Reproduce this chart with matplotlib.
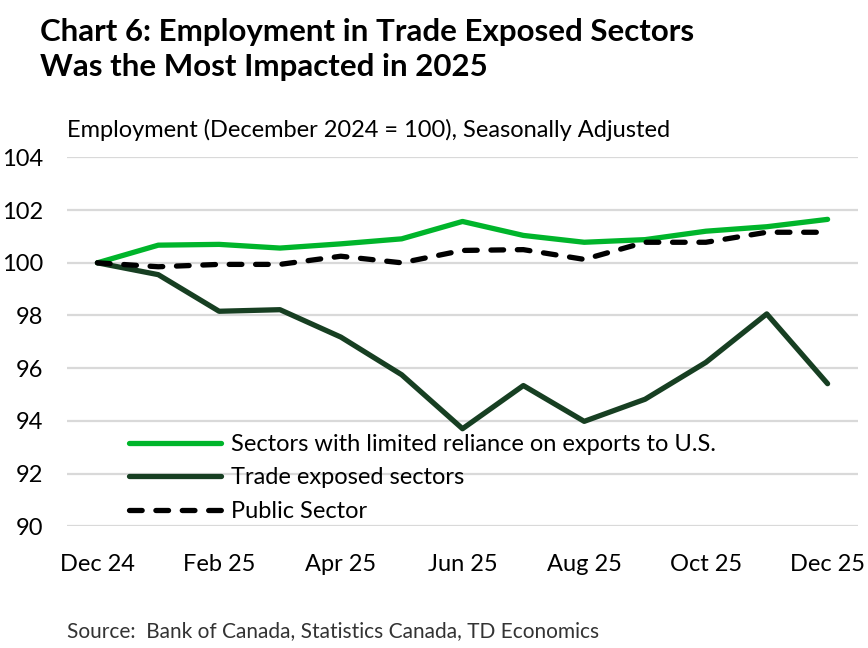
import matplotlib.pyplot as plt

# ---- data ----
months = ["Dec 24", "Jan 25", "Feb 25", "Mar 25", "Apr 25", "May 25", "Jun 25",
          "Jul 25", "Aug 25", "Sep 25", "Oct 25", "Nov 25", "Dec 25"]
limited_reliance = [100.0, 100.67, 100.7, 100.56, 100.72, 100.91, 101.57,
                    101.04, 100.78, 100.88, 101.2, 101.37, 101.65]
trade_exposed = [100.0, 99.55, 98.16, 98.22, 97.18, 95.75, 93.7,
                 95.34, 93.98, 94.82, 96.22, 98.06, 95.41]
public_sector = [100.0, 99.85, 99.94, 99.94, 100.25, 100.0, 100.47,
                 100.5, 100.13, 100.78, 100.78, 101.16, 101.16]

font = "Lato"
plt.rcParams["font.family"] = [font, "DejaVu Sans"]
fs = 17

fig = plt.figure(figsize=(8.68, 6.48), dpi=100)
ax = fig.add_axes([0.0772, 0.188, 0.9113, 0.569])

x = list(range(len(months)))
ax.plot(x, limited_reliance, color="#00B52B", lw=3.8, solid_capstyle="round",
        label="Sectors with limited reliance on exports to U.S.", zorder=3)
ax.plot(x, trade_exposed, color="#173F22", lw=3.8, solid_capstyle="round",
        label="Trade exposed sectors", zorder=3)
ax.plot(x, public_sector, color="black", lw=3.8, dashes=(2.4, 2.6),
        dash_capstyle="round", label="Public Sector", zorder=4)

ax.set_xlim(-0.5, 12.5)
ax.set_ylim(90, 104)
ax.set_yticks(range(90, 105, 2))
ax.set_xticks(x[::2])
ax.set_xticklabels(months[::2])
ax.tick_params(axis="both", length=0, labelsize=fs, colors="black")
ax.tick_params(axis="x", pad=20)
ax.tick_params(axis="y", pad=17)
ax.grid(axis="y", color="#D9D9D9", lw=1.6)
ax.set_axisbelow(True)
for s in ax.spines.values():
    s.set_visible(False)

leg = ax.legend(loc="lower left", bbox_to_anchor=(0.06, -0.027), frameon=False,
                fontsize=fs, handlelength=3.9, handletextpad=0.42,
                labelspacing=0.53, borderaxespad=0.2)

fig.text(0.046, 0.972, "Chart 6: Employment in Trade Exposed Sectors\nWas the Most Impacted in 2025",
         fontsize=22.5, fontweight="bold", va="top", ha="left", linespacing=1.3)
fig.text(0.077, 0.80, "Employment (December 2024 = 100), Seasonally Adjusted",
         fontsize=fs, va="center", ha="left")
fig.text(0.077, 0.026, "Source:  Bank of Canada, Statistics Canada, TD Economics",
         fontsize=15, va="center", ha="left", color="#333333")

fig.savefig("out.png", dpi=100)
